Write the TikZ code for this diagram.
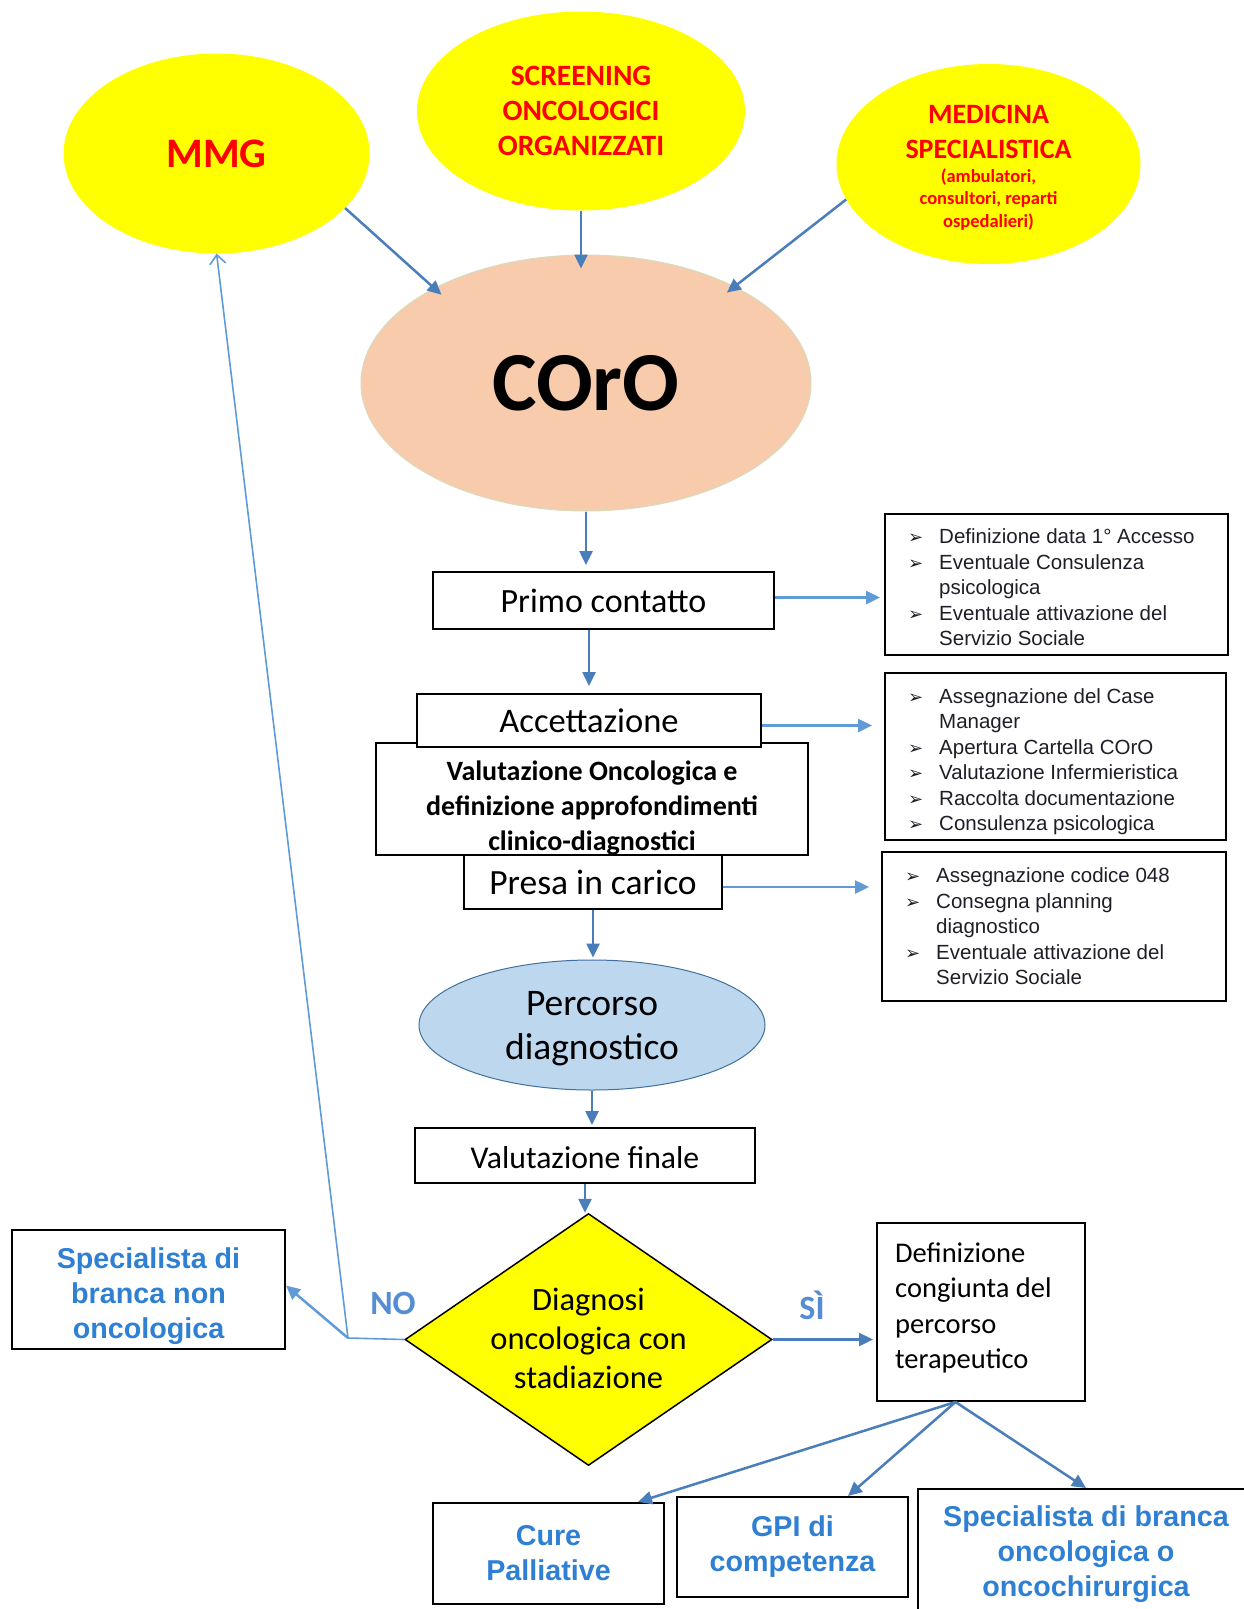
\documentclass[tikz,border=0pt]{standalone}
\usepackage{fontspec}
\setmainfont{Carlito}
\newfontfamily\arialf{Liberation Sans}
\newfontfamily\dejavuf{DejaVu Sans}
\usetikzlibrary{arrows.meta,calc,shapes.geometric}
\definecolor{arrowblue}{RGB}{74,126,187}
\definecolor{lightarrow}{RGB}{96,155,215}
\definecolor{txtblue}{RGB}{47,128,210}
\definecolor{lblblue}{RGB}{84,141,212}
\definecolor{srcred}{RGB}{255,0,0}
\definecolor{peach}{RGB}{247,203,172}
\definecolor{peachline}{RGB}{215,220,190}
\definecolor{lightblue}{RGB}{189,215,238}
\definecolor{ellborder}{RGB}{65,113,156}
\definecolor{ylw}{RGB}{255,255,0}
\definecolor{listtxt}{RGB}{30,30,40}
\newcommand{\fsz}[2]{\fontsize{#1}{#2}\selectfont}
\newcommand{\bul}{\makebox[31pt][l]{\dejavuf\fontsize{18}{18}\selectfont ➢}}
\newcommand{\ind}{\hspace*{31pt}}
\tikzset{
  src/.style={ellipse, fill=ylw, inner sep=0pt, text=srcred, align=center},
  box/.style={rectangle, draw=black, line width=2pt, fill=white, inner sep=0pt, align=center},
  listtext/.style={anchor=west, inner sep=0pt, align=left, text=listtxt, font=\arialf\fsz{20.5}{25.5}},
  flow/.style={draw=arrowblue, line width=2.5pt, -{Triangle[length=14pt,width=13pt]}},
  sideflow/.style={draw=lightarrow, line width=2.5pt, -{Triangle[length=14pt,width=13pt]}},
  noline/.style={draw=lightarrow, line width=1.6pt},
  bluetxt/.style={text=txtblue, font=\arialf\bfseries\fsz{28.7}{35}},
  lbl/.style={text=lblblue, font=\bfseries\fsz{34}{34}, inner sep=0pt},
}
\begin{document}
\begin{tikzpicture}[x=1pt,y=-1pt]
\useasboundingbox (0,0) rectangle (1244,1609);
\fill[white] (0,0) rectangle (1244,1609);

% source ellipses
\node[src, minimum width=306pt, minimum height=200pt, font=\bfseries\fsz{42}{42}] (mmg) at (216.6,153.5) {MMG};
\node[src, minimum width=328pt, minimum height=199pt, font=\bfseries\fsz{29.5}{35}] (scr) at (581,111) {SCREENING\\ONCOLOGICI\\ORGANIZZATI};
\node[src, minimum width=304pt, minimum height=200pt] (med) at (988.5,164) {};
\node[inner sep=0pt, align=center, text=srcred, font=\bfseries\fsz{28}{35}] (medtop) at ([yshift=32pt]med.center) {MEDICINA\\SPECIALISTICA};
\node[inner sep=0pt, align=center, text=srcred, font=\bfseries\fsz{18.5}{22.5}] (medsub) at ([yshift=-35.5pt]med.center) {(ambulatori,\\consultori, reparti\\ospedalieri)};

% COrO
\node[ellipse, fill=peach, draw=peachline, line width=1pt, minimum width=450pt, minimum height=256pt, inner sep=0pt, font=\bfseries\fsz{84}{84}] (coro) at (586,383) {COrO};

% main flow boxes
\node[box, minimum width=341pt, minimum height=57pt, font=\fsz{34}{34}] (primo) at (603.5,600.5) {Primo contatto};
\node[box, minimum width=432pt, minimum height=112pt] (valonc) at (592,799) {};
\node[inner sep=0pt, align=center, font=\bfseries\fsz{28}{35}] (valonctxt) at ([yshift=-9pt]valonc.center) {Valutazione Oncologica e\\definizione approfondimenti\\clinico-diagnostici};
\node[box, minimum width=344pt, minimum height=53pt, font=\fsz{34.5}{34.5}] (acc) at (589,720.5) {Accettazione};
\node[box, minimum width=258pt, minimum height=54pt, font=\fsz{35.5}{35.5}] (presa) at (593,882) {Presa in carico};
\node[ellipse, fill=lightblue, draw=ellborder, line width=1pt, minimum width=346pt, minimum height=130pt, inner sep=0pt] (perc) at (592,1025) {};
\node[inner sep=0pt, align=center, font=\fsz{37.5}{44}] (perctxt) at ([yshift=-4pt]perc.center) {Percorso\\diagnostico};
\node[box, minimum width=340pt, minimum height=55pt] (valfin) at (585,1155.5) {};
\node[inner sep=0pt, font=\fsz{31.7}{31.7}] (valfintxt) at ([yshift=-2pt]valfin.center) {Valutazione finale};

% diamond
\node[diamond, aspect=1.456, fill=ylw, draw=black, line width=1.5pt, inner sep=0pt, minimum width=367pt, minimum height=252pt] (diag) at (588.5,1339.5) {};
\node[inner sep=0pt, align=center, font=\fsz{32.5}{39}] (diagtxt) at ([yshift=1pt]diag.center) {Diagnosi\\oncologica con\\stadiazione};

% right list boxes
\node[box, minimum width=343pt, minimum height=141pt] (r1) at (1056.5,584.5) {};
\node[listtext] (r1t) at ([xshift=24pt,yshift=-3pt]r1.west)
 {\bul Definizione data 1° Accesso\\
  \bul Eventuale Consulenza\\
  \ind psicologica\\
  \bul Eventuale attivazione del\\
  \ind Servizio Sociale};
\node[box, minimum width=341pt, minimum height=167pt] (r2) at (1055.5,756.5) {};
\node[listtext] (r2t) at ([xshift=24pt,yshift=-5pt]r2.west)
 {\bul Assegnazione del Case\\
  \ind Manager\\
  \bul Apertura Cartella COrO\\
  \bul Valutazione Infermieristica\\
  \bul Raccolta documentazione\\
  \bul Consulenza psicologica};
\node[box, minimum width=344pt, minimum height=149pt] (r3) at (1054,926.5) {};
\node[listtext] (r3t) at ([xshift=24pt]r3.west)
 {\bul Assegnazione codice 048\\
  \bul Consegna planning\\
  \ind diagnostico\\
  \bul Eventuale attivazione del\\
  \ind Servizio Sociale};

% outcome boxes
\node[box, minimum width=273pt, minimum height=119pt] (nob) at (148.5,1289.5) {};
\node[inner sep=0pt, align=center, bluetxt] (nobtxt) at ([yshift=-7pt]nob.center) {Specialista di\\branca non\\oncologica};
\node[box, minimum width=208pt, minimum height=178pt] (def) at (981,1312) {};
\node[anchor=west, inner sep=0pt, align=left, font=\fsz{28.5}{35.3}] (deft) at ([xshift=19pt,yshift=4pt]def.west) {Definizione\\congiunta del\\percorso\\terapeutico};
\node[box, minimum width=231pt, minimum height=101pt, bluetxt] (cure) at (548.5,1553.5) {Cure\\Palliative};
\node[box, minimum width=231pt, minimum height=100pt, bluetxt] (gpi) at (792.5,1547) {GPI di\\competenza};
\node[box, minimum width=336pt, minimum height=130pt, bluetxt] (spec) at (1086,1554) {Specialista di branca\\oncologica o\\oncochirurgica};

% labels
\node[lbl] (no) at (393,1303) {NO};
\node[lbl] (si) at (812,1305.5) {SÌ};

% connectors
\draw[flow, shorten >=-10pt] (mmg.-23) -- (coro.148);
\draw[flow] (scr.south) -- ([yshift=-14pt]scr.south |- coro.north);
\draw[flow, shorten >=-10pt] (med.194.5) -- (coro.33);
\draw[flow, shorten >=6pt] (coro.south) -- (coro.south |- primo.north);
\draw[sideflow, shorten >=4pt] ([yshift=3pt]primo.east) -- ([yshift=3pt]primo.east -| r1.west);
\draw[flow, shorten >=7pt] (primo.south -| acc.north) -- (acc.north);
\draw[sideflow, shorten >=12pt] ([yshift=-5pt]acc.east) -- ([yshift=-5pt]acc.east -| r2.west);
\draw[sideflow, shorten >=12pt] ([yshift=-5pt]presa.east) -- ([yshift=-5pt]presa.east -| r3.west);
\draw[flow, shorten >=2pt] (presa.south) -- (presa.south |- perc.north);
\draw[flow, shorten >=2pt] (perc.south) -- (perc.south |- valfin.north);
\draw[flow] (valfin.south) -- (valfin.south |- diag.north);
\draw[flow, shorten >=3pt] (diag.east) -- (diag.east -| def.west);

\coordinate (jn) at (348,1338);
\draw[noline] (diag.west) -- (jn);
\draw[sideflow] (jn) -- ([yshift=4pt]nob.east);
\draw[noline, -{Straight Barb[length=9pt,width=16pt]}] (jn) -- (mmg.south);

\coordinate (fork) at ([xshift=-25.5pt]def.south);
\draw[flow] (fork) -- ([xshift=89.5pt]cure.north);
\draw[flow] (fork) -- ([xshift=55.5pt]gpi.north);
\draw[flow] (fork) -- (spec.north);
\end{tikzpicture}
\end{document}
